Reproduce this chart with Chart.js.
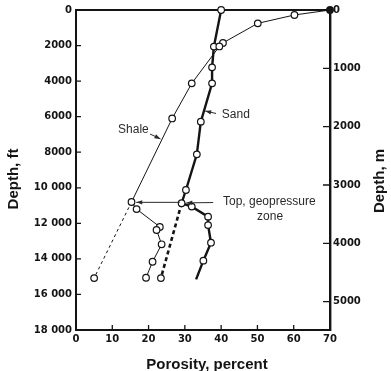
<!DOCTYPE html>
<html>
<head>
<meta charset="utf-8">
<script src="https://cdn.jsdelivr.net/npm/chart.js@4.4.1/dist/chart.umd.min.js"></script>
<style>
  html, body { margin: 0; padding: 0; background: #fff; }
  #wrap { width: 391px; height: 371px; }
</style>
</head>
<body>
<div id="wrap"><canvas id="chart" width="391" height="371"></canvas></div>
<script>
// Data: porosity in percent, depth in feet
const shalePorosity = [70, 60.2, 50.1, 40.5, 39.5, 31.9, 26.5, 15.3, 16.7, 23.1, 22.2, 23.6, 21.1, 19.3];
const shaleDepth    = [0, 280, 750, 1850, 2050, 4125, 6100, 10800, 11200, 12200, 12375, 13180, 14160, 15060];

const shaleDashPorosity = [15.3, 5.0];
const shaleDashDepth    = [10800, 15080];

const sandPorosity = [40, 38.0, 37.5, 37.5, 34.4, 33.3, 30.3, 29.1, 31.9, 36.4, 36.4, 37.2, 35.1, 33.1];
const sandDepth    = [0, 2060, 3225, 4125, 6280, 8120, 10125, 10870, 11060, 11625, 12100, 13090, 14100, 15150];

const sandDashPorosity = [29.1, 23.4];
const sandDashDepth    = [10870, 15080];

const porosityTicks = [0, 10, 20, 30, 40, 50, 60, 70];
const feetTicks = [0, 2000, 4000, 6000, 8000, 10000, 12000, 14000, 16000, 18000];
const meterTicks = [0, 1000, 2000, 3000, 4000, 5000];

const FT_PER_M = 3.2808;
const INK = '#141414';
const tickFont = { family: 'DejaVu Sans', size: 10, weight: 'bold' };

function pts(xs, ys) {
  return xs.map((v, i) => ({ x: v, y: ys[i] }));
}

function fmtFeet(v) {
  if (v >= 10000) return String(v).replace(/(\d+)(\d{3})$/, '$1 $2');
  return String(v);
}

// Frame (top line) and inward tick marks
const framePlugin = {
  id: 'frame',
  beforeDatasetsDraw(chart) {
    const { ctx, chartArea: a, scales } = chart;
    ctx.save();
    ctx.strokeStyle = INK;
    ctx.lineWidth = 2;
    ctx.beginPath();
    ctx.moveTo(a.left - 1, a.top);
    ctx.lineTo(a.right + 1, a.top);
    ctx.stroke();

    ctx.lineWidth = 1.3;
    ctx.beginPath();
    feetTicks.forEach(v => {
      const py = scales.y.getPixelForValue(v);
      if (v > 0 && v < 18000) { ctx.moveTo(a.left, py); ctx.lineTo(a.left + 5, py); }
    });
    porosityTicks.forEach(v => {
      const px = scales.x.getPixelForValue(v);
      if (v > 0 && v < 70) { ctx.moveTo(px, a.bottom); ctx.lineTo(px, a.bottom - 5); }
    });
    meterTicks.forEach(v => {
      const py = scales.y2.getPixelForValue(v);
      if (v > 0) { ctx.moveTo(a.right, py); ctx.lineTo(a.right - 7, py); }
    });
    ctx.stroke();
    ctx.restore();
  }
};

function arrow(ctx, x0, y0, x1, y1) {
  ctx.beginPath();
  ctx.moveTo(x0, y0);
  ctx.lineTo(x1, y1);
  ctx.stroke();
  const ang = Math.atan2(y1 - y0, x1 - x0);
  const L = 6, W = 2.2;
  ctx.beginPath();
  ctx.moveTo(x1, y1);
  ctx.lineTo(x1 - L * Math.cos(ang) + W * Math.sin(ang), y1 - L * Math.sin(ang) - W * Math.cos(ang));
  ctx.lineTo(x1 - L * Math.cos(ang) - W * Math.sin(ang), y1 - L * Math.sin(ang) + W * Math.cos(ang));
  ctx.closePath();
  ctx.fill();
}

// Labels, arrows and axis titles
const notesPlugin = {
  id: 'notes',
  afterDraw(chart) {
    const { ctx, chartArea: a, scales: { x, y } } = chart;
    const X = v => x.getPixelForValue(v);
    const Y = v => y.getPixelForValue(v);
    ctx.save();
    ctx.fillStyle = '#2a2a2a';
    ctx.strokeStyle = '#2a2a2a';
    ctx.lineWidth = 1;
    ctx.font = '12px "Liberation Sans", Arial, sans-serif';
    ctx.textBaseline = 'middle';
    ctx.textAlign = 'left';

    ctx.fillText('Shale', X(11.6), Y(6750));
    arrow(ctx, X(20.4), Y(6975), X(23.3), Y(7250));

    ctx.fillText('Sand', X(40.2), Y(5900));
    arrow(ctx, X(38.6), Y(5820), X(35.6), Y(5680));

    ctx.fillText('Top, geopressure', X(40.5), Y(10800));
    ctx.textAlign = 'center';
    ctx.fillText('zone', X(53.5), Y(11650));
    arrow(ctx, X(37.8), Y(10830), X(30.4), Y(10850));
    arrow(ctx, X(28.6), Y(10820), X(16.6), Y(10820));

    // axis titles
    ctx.fillStyle = INK;
    ctx.font = 'bold 15px "Liberation Sans", Arial, sans-serif';
    ctx.textAlign = 'center';
    ctx.fillText('Porosity, percent', (a.left + a.right) / 2 + 4, 365);

    ctx.save();
    ctx.translate(14, 179);
    ctx.rotate(-Math.PI / 2);
    ctx.fillText('Depth, ft', 0, 0);
    ctx.restore();

    ctx.save();
    ctx.translate(380, 181);
    ctx.rotate(-Math.PI / 2);
    ctx.fillText('Depth, m', 0, 0);
    ctx.restore();
    ctx.restore();
  }
};

const circle = {
  pointStyle: 'circle',
  pointRadius: 3.3,
  pointBackgroundColor: '#fff',
  pointBorderColor: INK,
  pointBorderWidth: 1.2
};

new Chart(document.getElementById('chart'), {
  type: 'line',
  data: {
    datasets: [
      Object.assign({}, circle, {
        label: 'Shale',
        data: pts(shalePorosity, shaleDepth),
        borderColor: INK,
        borderWidth: 1,
        pointBackgroundColor: shaleDepth.map((d, i) => i === 0 ? INK : '#fff')
      }),
      Object.assign({}, circle, {
        label: 'Shale (projected)',
        data: pts(shaleDashPorosity, shaleDashDepth),
        borderColor: INK,
        borderWidth: 1,
        borderDash: [3, 3],
        pointRadius: [0, 3.3]
      }),
      Object.assign({}, circle, {
        label: 'Sand',
        data: pts(sandPorosity, sandDepth),
        borderColor: INK,
        borderWidth: 2.4,
        pointRadius: sandDepth.map((d, i) => i === sandDepth.length - 1 ? 0 : 3.3)
      }),
      Object.assign({}, circle, {
        label: 'Sand (projected)',
        data: pts(sandDashPorosity, sandDashDepth),
        borderColor: INK,
        borderWidth: 2.6,
        borderDash: [4, 3],
        pointRadius: [0, 3.3]
      })
    ]
  },
  options: {
    responsive: false,
    animation: false,
    clip: false,
    parsing: false,
    layout: { padding: { top: 10, left: 0, right: 0, bottom: 0 } },
    plugins: {
      legend: { display: false },
      tooltip: { enabled: false },
      title: { display: false }
    },
    scales: {
      x: {
        type: 'linear',
        position: 'bottom',
        min: 0, max: 70,
        grid: { display: false, drawTicks: false },
        border: { display: true, width: 2, color: INK },
        ticks: { stepSize: 10, padding: 3, color: INK, font: tickFont, maxRotation: 0 },
        afterFit: s => { s.height = 41; }
      },
      y: {
        type: 'linear',
        position: 'left',
        reverse: true,
        min: 0, max: 18000,
        grid: { display: false, drawTicks: false },
        border: { display: true, width: 2, color: INK },
        ticks: { stepSize: 2000, padding: 4, color: INK, font: tickFont, callback: v => fmtFeet(v) },
        afterFit: s => { s.width = 76; }
      },
      y2: {
        type: 'linear',
        position: 'right',
        reverse: true,
        min: 0, max: 18000 / FT_PER_M,
        grid: { display: false, drawTicks: false },
        border: { display: true, width: 2.4, color: INK },
        ticks: { padding: 3, color: INK, font: tickFont, callback: v => String(v) },
        afterBuildTicks: s => { s.ticks = meterTicks.map(v => ({ value: v })); },
        afterFit: s => { s.width = 61; }
      }
    }
  },
  plugins: [framePlugin, notesPlugin]
});
</script>
</body>
</html>
